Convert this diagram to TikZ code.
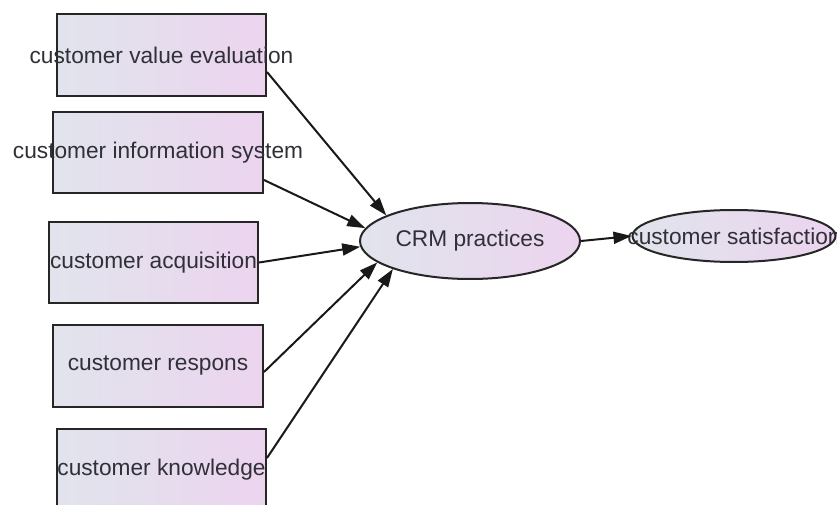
\documentclass[tikz,border=0pt]{standalone}
\usepackage{fontspec}
\setmainfont{Liberation Sans}
\usetikzlibrary{shapes.geometric,arrows.meta,calc}
\definecolor{gleft}{HTML}{E1E4EC}
\definecolor{gright}{HTML}{ECD4EF}
\definecolor{txt}{HTML}{303038}
\tikzset{
  boxnode/.style={draw=black!85, line width=2pt, rectangle, left color=gleft, right color=gright,
    minimum width=209pt, minimum height=82pt, inner sep=0pt, text=txt,
    font=\fontsize{22.7}{27}\selectfont},
  ellnode/.style={draw=black!85, line width=2pt, ellipse, left color=gleft, right color=gright,
    inner sep=0pt, text=txt, font=\fontsize{22.7}{27}\selectfont},
  conn/.style={line width=2pt, draw=black!90, -{Triangle[length=18pt,width=12pt]}}
}
\begin{document}
\begin{tikzpicture}[x=1pt,y=-1pt]
\useasboundingbox (0,0) rectangle (837,505);
\clip (0,0) rectangle (837,505);
\fill[white] (0,0) rectangle (837,505);
\node[boxnode] (b1) at (161.5,55) {\makebox[0pt]{customer value evaluation}};
\node[boxnode, minimum width=210pt, minimum height=81pt] (b2) at (158,152.5) {\makebox[0pt]{customer information system}};
\node[boxnode, minimum height=81pt] (b3) at (153.5,262.5) {\makebox[0pt]{customer acquisition}};
\node[boxnode, minimum width=210pt] (b4) at (158,366) {\makebox[0pt]{customer respons}};
\node[boxnode] (b5) at (161.5,470) {\makebox[0pt]{customer knowledge}};
\node[ellnode, minimum width=220pt, minimum height=76pt] (crm) at (470,241) {CRM practices};
\node[ellnode, minimum width=203pt, minimum height=52pt] (sat) at (734,236) {\makebox[0pt]{customer satisfaction}};
\coordinate (s1) at ($(b1.east)+(0,17)$);
\coordinate (s2) at ($(b2.east)+(0,27.5)$);
\coordinate (s4) at ($(b4.east)+(0,6)$);
\coordinate (s5) at ($(b5.east)+(0,-12)$);
\draw[conn] (s1) -- (crm.163);
\draw[conn] (s2) -- (crm.173);
\draw[conn] (b3.east) -- (crm.183);
\draw[conn] (s4) -- (crm.193);
\draw[conn] (s5) -- (crm.200);
\draw[conn] (crm.east) -- (sat.west);
\end{tikzpicture}
\end{document}
